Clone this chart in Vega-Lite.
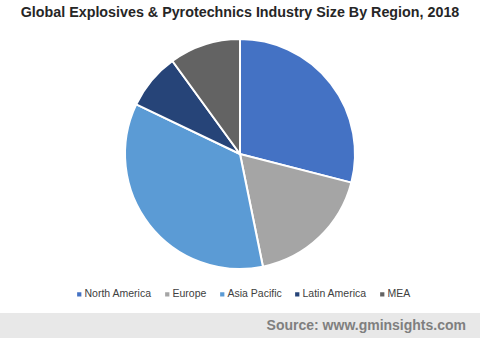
{
  "$schema": "https://vega.github.io/schema/vega-lite/v6.json",
  "width": 480,
  "height": 308,
  "padding": {"left": 0, "right": 0, "top": 0, "bottom": 30},
  "autosize": "none",
  "background": "white",
  "config": {"view": {"stroke": null}, "font": "Liberation Sans"},
  "title": {
    "text": "Global Explosives & Pyrotechnics Industry Size By Region, 2018",
    "anchor": "middle",
    "frame": "group",
    "orient": "top",
    "offset": -20,
    "fontSize": 14.3,
    "fontWeight": "bold",
    "color": "#262626",
    "font": "Liberation Sans"
  },
  "layer": [
    {
      "data": {"values": [
        {"region": "North America", "share": 29.0, "rank": 1},
        {"region": "Europe", "share": 17.8, "rank": 2},
        {"region": "Asia Pacific", "share": 35.3, "rank": 3},
        {"region": "Latin America", "share": 7.9, "rank": 4},
        {"region": "MEA", "share": 10.0, "rank": 5}
      ]},
      "mark": {"type": "arc", "radius": 115, "stroke": "white", "strokeWidth": 2},
      "encoding": {
        "theta": {"field": "share", "type": "quantitative", "stack": true},
        "order": {"field": "rank", "type": "quantitative"},
        "color": {
          "field": "region",
          "type": "nominal",
          "sort": ["North America", "Europe", "Asia Pacific", "Latin America", "MEA"],
          "scale": {
            "domain": ["North America", "Europe", "Asia Pacific", "Latin America", "MEA"],
            "range": ["#4472C4", "#A5A5A5", "#5B9BD5", "#264478", "#636363"]
          },
          "legend": {
            "title": null,
            "orient": "none",
            "direction": "horizontal",
            "legendX": 74,
            "legendY": 289,
            "symbolType": "square",
            "symbolSize": 18,
            "symbolStrokeWidth": 0,
            "labelFontSize": 10.5,
            "labelColor": "#404040",
            "labelFont": "Liberation Sans",
            "labelOffset": 0,
            "columnPadding": 10
          }
        }
      }
    },
    {
      "data": {"values": [{"source": "Source: www.gminsights.com"}]},
      "layer": [
        {
          "mark": {"type": "rect", "color": "#E8E8E8"},
          "encoding": {
            "x": {"value": 0},
            "x2": {"value": 480},
            "y": {"value": 313},
            "y2": {"value": 338}
          }
        },
        {
          "mark": {"type": "text", "align": "right", "baseline": "alphabetic", "fontSize": 14, "fontWeight": "bold", "color": "#7F7F7F", "font": "Liberation Sans"},
          "encoding": {
            "text": {"field": "source"},
            "x": {"value": 466},
            "y": {"value": 330}
          }
        }
      ]
    }
  ]
}
